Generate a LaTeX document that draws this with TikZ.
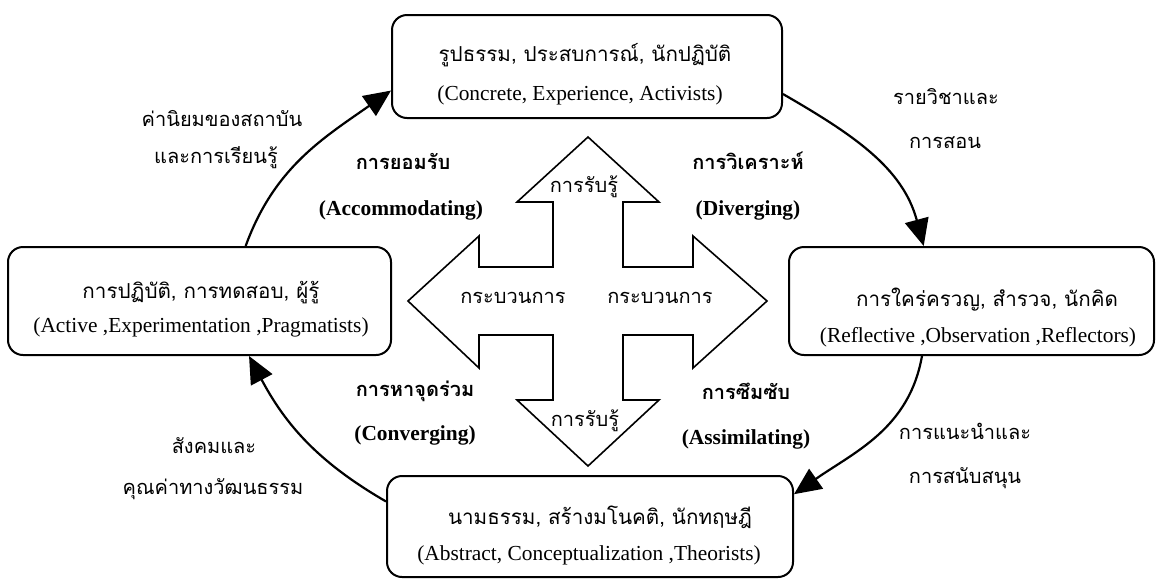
\documentclass[tikz,border=0pt]{standalone}
\usepackage{fontspec}
\setmainfont{Liberation Serif}
\newfontfamily\thaifont[Script=Thai]{Loma}
\usetikzlibrary{arrows.meta}

\tikzset{
  stagebox/.style={draw, line width=1pt, rounded corners=7.5pt, inner sep=0pt},
  thaitxt/.style={font=\fontsize{10}{12}\selectfont\thaifont, inner sep=0pt, text height=9pt, text depth=3pt},
  boxth/.style={thaitxt, font=\fontsize{10.3}{12}\selectfont\thaifont},
  engtxt/.style={font=\fontsize{10.7}{12}\selectfont, inner sep=0pt},
  modeth/.style={thaitxt, font=\fontsize{10}{12}\selectfont\thaifont\bfseries},
  modeen/.style={engtxt, font=\fontsize{10.7}{12}\selectfont\bfseries},
  cyclearrow/.style={line width=1.1pt, -{Triangle[length=13.5pt,width=12pt]}},
}

\begin{document}
\begin{tikzpicture}[x=0.5pt,y=-0.5pt]
\useasboundingbox (0,0) rectangle (1159,579);

% the four stages
\node[stagebox, minimum width=195pt, minimum height=51.5pt] (conbox) at (587,66.5) {};
\node[boxth] (conth) at (585,55) {รูปธรรม, ประสบการณ์, นักปฏิบัติ};
\node[engtxt] (conen) at (580,95) {(Concrete, Experience, Activists)};

\node[stagebox, minimum width=182.5pt, minimum height=54pt] (refbox) at (971.5,301) {};
\node[boxth] (refth) at (987,300) {การใคร่ครวญ, สำรวจ, นักคิด};
\node[engtxt] (refen) at (978,337) {(Reflective ,Observation ,Reflectors)};

\node[stagebox, minimum width=203pt, minimum height=50.5pt] (absbox) at (590,526.5) {};
\node[boxth] (absth) at (600,518) {นามธรรม, สร้างมโนคติ, นักทฤษฎี};
\node[engtxt] (absen) at (589,555) {(Abstract, Conceptualization ,Theorists)};

\node[stagebox, minimum width=191.5pt, minimum height=54pt] (actbox) at (199.5,301) {};
\node[boxth] (actth) at (201,292) {การปฏิบัติ, การทดสอบ, ผู้รู้};
\node[engtxt] (acten) at (201,327) {(Active ,Experimentation ,Pragmatists)};

% cycle
\draw[cyclearrow] (actbox.50) to[out=70,in=215] (conbox.187);
\draw[cyclearrow] (conbox.-8) to[out=-30,in=105] (refbox.131);
\draw[cyclearrow] (refbox.228) to[out=-100,in=35] (absbox.9);
\draw[cyclearrow] (absbox.173) to[out=150,in=-62] (actbox.-48);

% cross in the middle
\draw[line width=0.8pt] (588,137) -- (659,202) -- (623,202) -- (623,267) -- (693,267)
  -- (693,236) -- (767,301) -- (693,368) -- (693,335) -- (623,335) -- (623,400)
  -- (659,400) -- (588,466) -- (517,400) -- (553,400) -- (553,335) -- (479,335)
  -- (479,368) -- (408,301) -- (479,236) -- (479,267) -- (553,267) -- (553,202)
  -- (517,202) -- cycle;
\node[thaitxt] (perup) at (584,186) {การรับรู้};
\node[thaitxt] (perdn) at (585,420) {การรับรู้};
\node[thaitxt] (proleft) at (513,297) {กระบวนการ};
\node[thaitxt] (proright) at (660,297) {กระบวนการ};

% learning styles
\node[modeth] (accth) at (403,163) {การยอมรับ};
\node[modeen] (accen) at (401,210) {(Accommodating)};
\node[modeth] (divth) at (748,163) {การวิเคราะห์};
\node[modeen] (diven) at (748,210) {(Diverging)};
\node[modeth] (conth2) at (415,390) {การหาจุดร่วม};
\node[modeen] (conven) at (415,435) {(Converging)};
\node[modeth] (assth) at (746,393) {การซึมซับ};
\node[modeen] (assen) at (746,439) {(Assimilating)};

% outer influences
\node[thaitxt] (inst1) at (222,120) {ค่านิยมของสถาบัน};
\node[thaitxt] (inst2) at (216,157) {และการเรียนรู้};
\node[thaitxt] (teach1) at (946,98) {รายวิชาและ};
\node[thaitxt] (teach2) at (945,142) {การสอน};
\node[thaitxt] (guide1) at (965,433) {การแนะนำและ};
\node[thaitxt] (guide2) at (965,477) {การสนับสนุน};
\node[thaitxt] (soc1) at (214,447) {สังคมและ};
\node[thaitxt] (soc2) at (213,488) {คุณค่าทางวัฒนธรรม};
\end{tikzpicture}
\end{document}
